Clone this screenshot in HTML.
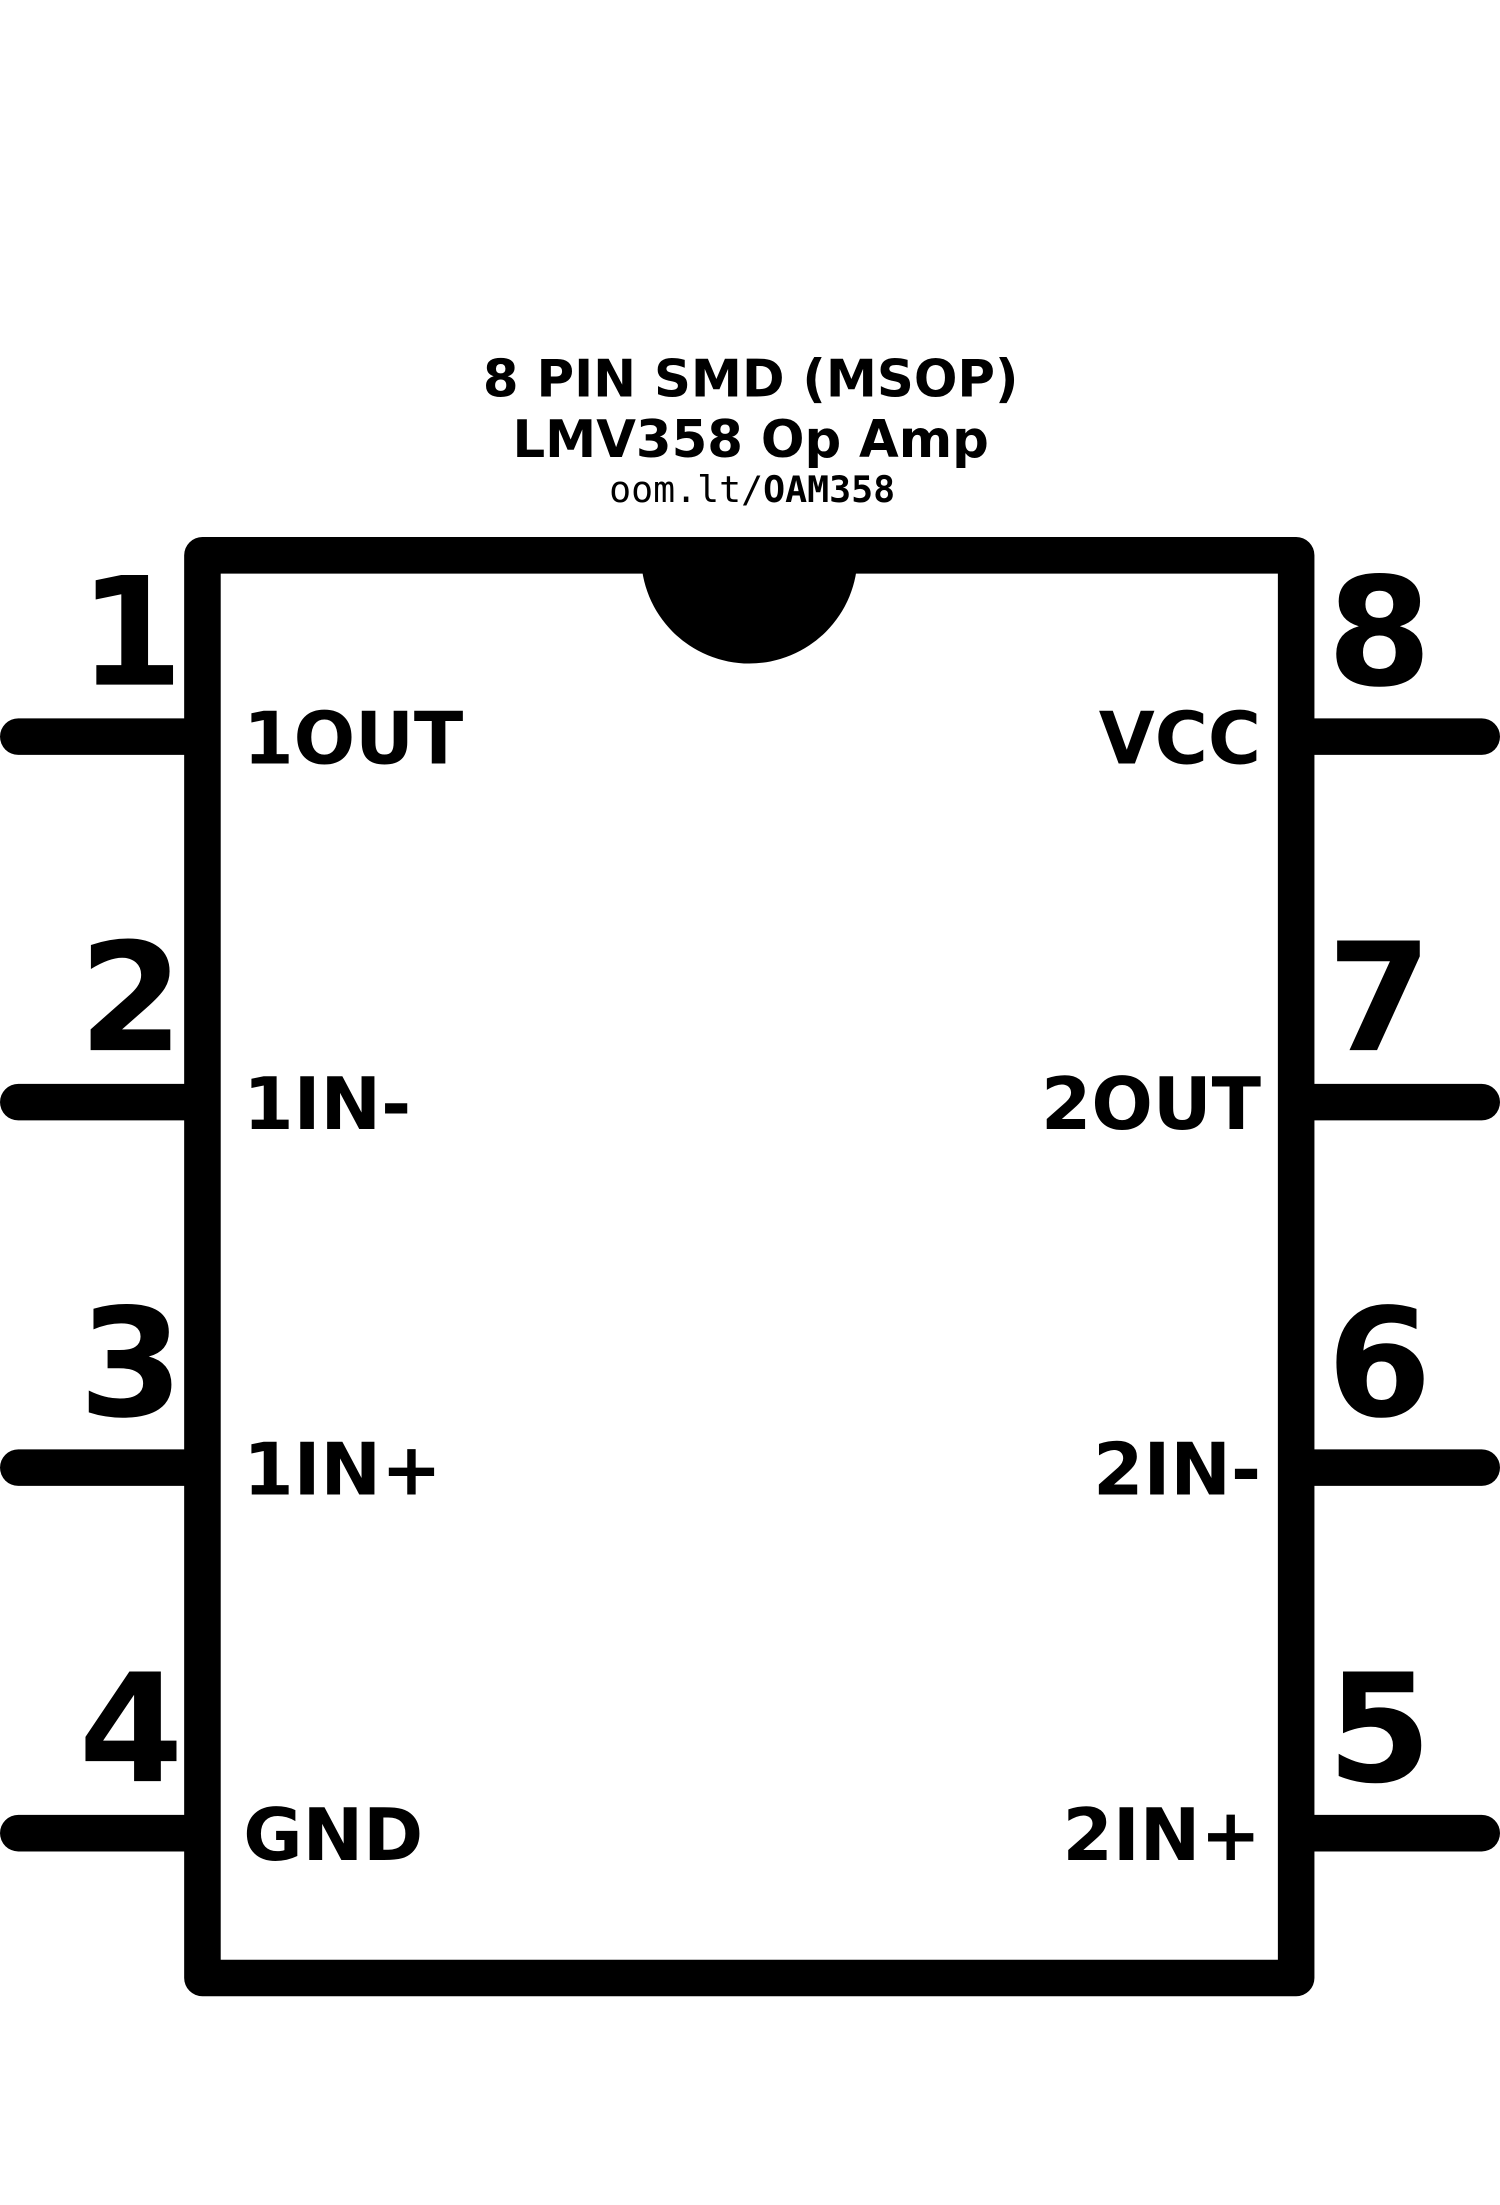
<!DOCTYPE html>
<html><head><meta charset="utf-8"><style>html,body{margin:0;padding:0;background:#fff}svg{display:block}</style></head>
<body>
<svg width="1500" height="2205" viewBox="0 0 1067 1568.5" preserveAspectRatio="none" xmlns="http://www.w3.org/2000/svg">
<g font-family="DejaVu Sans, Liberation Sans, sans-serif" font-weight="bold" text-anchor="middle" fill="#000">
<text x="534" y="282" font-size="36.5">8 PIN SMD (MSOP)</text>
<text x="534" y="325" font-size="36.5">LMV358 Op Amp</text>
<text x="535" y="357" font-size="26" font-family="DejaVu Sans Mono, Liberation Mono, monospace"><tspan font-weight="normal">oom.lt/</tspan>OAM358</text>
</g>
<g stroke="#000" stroke-width="26" stroke-linecap="round">
<line x1="13" y1="524" x2="140" y2="524"/><line x1="13" y1="784" x2="140" y2="784"/>
<line x1="13" y1="1044" x2="140" y2="1044"/><line x1="13" y1="1304" x2="140" y2="1304"/>
<line x1="926" y1="524" x2="1054" y2="524"/><line x1="926" y1="784" x2="1054" y2="784"/>
<line x1="926" y1="1044" x2="1054" y2="1044"/><line x1="926" y1="1304" x2="1054" y2="1304"/>
</g>
<rect x="144" y="395" width="778" height="1012" fill="none" stroke="#000" stroke-width="26" stroke-linejoin="round"/>
<path d="M456 395 A77 77 0 0 0 610 395 Z" fill="#000"/>
<g font-family="DejaVu Sans, Liberation Sans, sans-serif" font-weight="bold" font-size="107" fill="#000">
<text x="56" y="487">1</text><text x="56" y="747">2</text><text x="56" y="1007">3</text><text x="56" y="1267">4</text>
<text x="944" y="487">8</text><text x="944" y="747">7</text><text x="944" y="1007">6</text><text x="944" y="1267">5</text>
</g>
<g font-family="DejaVu Sans, Liberation Sans, sans-serif" font-weight="bold" font-size="51.5" fill="#000">
<text x="173" y="543">1OUT</text><text x="173" y="803">1IN-</text><text x="173" y="1063">1IN+</text><text x="173" y="1323">GND</text>
<g text-anchor="end"><text x="897" y="543">VCC</text><text x="897" y="803">2OUT</text><text x="897" y="1063">2IN-</text><text x="897" y="1323">2IN+</text></g>
</g>
</svg>
</body></html>
